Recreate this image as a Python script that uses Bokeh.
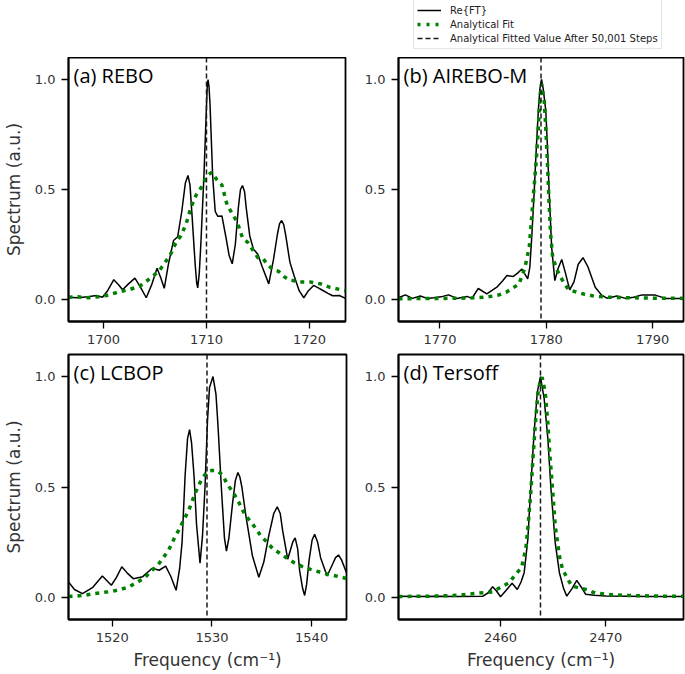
from bokeh.plotting import figure
from bokeh.models import (Range1d, FixedTicker, PrintfTickFormatter, Span, Label,
                          Legend, LegendItem)
from bokeh.layouts import column, row
from bokeh.embed import file_html
from bokeh.resources import INLINE

# ---------------- data ----------------
y_ticks = [0.0, 0.5, 1.0]

# (a) REBO
rebo_x = [1696.6, 1697.5, 1698.5, 1699.3, 1699.9, 1700.4, 1701.0, 1701.5, 1701.85, 1702.4,
          1703.05, 1703.6, 1704.15, 1704.7, 1705.2, 1705.55, 1705.9, 1706.3, 1706.8, 1707.2,
          1707.6, 1707.95, 1708.2, 1708.4, 1708.6, 1708.9, 1709.05, 1709.15, 1709.3, 1709.45,
          1709.75, 1710.0, 1710.07, 1710.15, 1710.25, 1710.35, 1710.6, 1710.85, 1711.1, 1711.5,
          1711.9, 1712.2, 1712.5, 1712.8, 1713.1, 1713.3, 1713.5, 1713.7, 1713.85, 1714.2,
          1714.55, 1715.0, 1715.4, 1716.05, 1716.5, 1716.9, 1717.1, 1717.3, 1717.5, 1717.7,
          1718.1, 1718.5, 1719.0, 1719.45, 1719.9, 1720.4, 1720.9, 1721.3, 1721.8, 1722.25,
          1722.9, 1723.5]
rebo_y = [0.010, 0.008, 0.012, 0.018, 0.010, 0.040, 0.090, 0.065, 0.044, 0.070,
          0.097, 0.055, 0.008, 0.070, 0.142, 0.100, 0.051, 0.160, 0.268, 0.285,
          0.400, 0.530, 0.564, 0.520, 0.380, 0.160, 0.075, 0.053, 0.120, 0.250,
          0.560, 0.880, 0.965, 1.000, 0.965, 0.880, 0.560, 0.400, 0.378, 0.380,
          0.280, 0.200, 0.162, 0.250, 0.420, 0.500, 0.518, 0.490, 0.420, 0.290,
          0.230, 0.205, 0.150, 0.071, 0.180, 0.300, 0.345, 0.359, 0.340, 0.290,
          0.170, 0.109, 0.040, 0.008, 0.040, 0.064, 0.052, 0.041, 0.028, 0.017,
          0.018, 0.005]
rebo_fit_x = [1696.6, 1697.5, 1698.5, 1699.5, 1700.5, 1701.5, 1702.5, 1703.5, 1704.5, 1705.4,
              1706.0, 1706.5, 1707.0, 1707.5, 1708.0, 1708.5, 1709.0, 1709.5, 1710.0, 1710.5,
              1711.0, 1711.5, 1712.0, 1712.5, 1713.0, 1713.5, 1714.0, 1714.5, 1715.0, 1715.5,
              1716.0, 1716.5, 1717.0, 1717.5, 1718.0, 1719.0, 1720.0, 1721.0, 1722.0, 1723.5]
rebo_fit_y = [0.010, 0.012, 0.008, 0.012, 0.020, 0.035, 0.045, 0.060, 0.095, 0.130,
              0.170, 0.205, 0.255, 0.290, 0.340, 0.420, 0.475, 0.510, 0.560, 0.578,
              0.545, 0.520, 0.430, 0.390, 0.350, 0.280, 0.260, 0.225, 0.190, 0.185,
              0.155, 0.135, 0.128, 0.105, 0.090, 0.080, 0.080, 0.072, 0.055, 0.040]
rebo_range = [1696.6, 1723.5]
rebo_ticks = [1700, 1710, 1720]
rebo_fitted = 1710.0

# (b) AIREBO-M
airebo_x = [1766.1, 1766.75, 1767.4, 1768.15, 1768.8, 1769.4, 1770.1, 1770.8, 1771.6, 1772.55,
            1773.0, 1773.6, 1774.4, 1775.35, 1775.9, 1776.3, 1776.9, 1777.3, 1777.7, 1778.25,
            1778.45, 1778.65, 1778.85, 1779.05, 1779.25, 1779.4, 1779.55, 1779.7, 1779.95, 1780.1,
            1780.25, 1780.5, 1780.8, 1781.1, 1781.45, 1781.8, 1782.2, 1782.6, 1783.0, 1783.45,
            1783.9, 1784.6, 1785.2, 1785.7, 1786.65, 1787.45, 1788.2, 1789.0, 1790.25, 1791.2,
            1792.9]
airebo_y = [0.008, 0.021, 0.005, 0.016, 0.005, 0.008, 0.012, 0.021, 0.005, 0.014,
            0.005, 0.050, 0.026, 0.056, 0.085, 0.109, 0.105, 0.120, 0.139, 0.094,
            0.147, 0.300, 0.480, 0.680, 0.860, 0.960, 1.000, 0.960, 0.860, 0.700,
            0.510, 0.238, 0.086, 0.140, 0.182, 0.120, 0.044, 0.080, 0.160, 0.190,
            0.150, 0.056, 0.020, 0.006, 0.016, 0.005, 0.010, 0.021, 0.020, 0.005,
            0.005]
airebo_fit_x = [1766.1, 1767.5, 1769.0, 1770.5, 1772.0, 1773.5, 1774.5, 1775.5, 1776.3, 1776.8,
                1777.4, 1777.7, 1778.0, 1778.4, 1778.6, 1778.8, 1779.05, 1779.25, 1779.4, 1779.55,
                1779.8, 1779.95, 1780.1, 1780.25, 1780.4, 1780.6, 1781.05, 1781.65, 1782.1, 1782.75,
                1783.5, 1784.5, 1786.0, 1788.0, 1790.0, 1792.9]
airebo_fit_y = [0.003, 0.004, 0.004, 0.005, 0.006, 0.008, 0.012, 0.020, 0.035, 0.051,
                0.068, 0.105, 0.147, 0.240, 0.360, 0.480, 0.630, 0.780, 0.920, 0.980,
                0.905, 0.780, 0.630, 0.450, 0.300, 0.190, 0.130, 0.075, 0.045, 0.035,
                0.025, 0.015, 0.010, 0.008, 0.006, 0.005]
airebo_range = [1766.1, 1792.9]
airebo_ticks = [1770, 1780, 1790]
airebo_fitted = 1779.5

# (c) LCBOP
lcbop_x = [1515.6, 1516.2, 1517.0, 1518.0, 1519.0, 1519.9, 1520.4, 1520.95, 1521.5, 1522.1,
           1523.05, 1524.0, 1524.7, 1525.35, 1525.85, 1526.4, 1526.75, 1527.0, 1527.3, 1527.55,
           1527.75, 1527.95, 1528.2, 1528.45, 1528.8, 1529.05, 1529.3, 1529.55, 1529.75, 1530.1,
           1530.4, 1530.6, 1530.95, 1531.25, 1531.45, 1531.7, 1532.05, 1532.35, 1532.6, 1532.8,
           1533.0, 1533.4, 1534.05, 1534.7, 1535.2, 1535.7, 1536.2, 1536.55, 1536.85, 1537.1,
           1537.6, 1538.1, 1538.35, 1538.6, 1538.8, 1539.1, 1539.3, 1539.5, 1539.75, 1540.05,
           1540.3, 1540.6, 1540.9, 1541.55, 1542.1, 1542.4, 1542.7, 1543.0, 1543.5]
lcbop_y = [0.070, 0.036, 0.017, 0.044, 0.097, 0.055, 0.090, 0.139, 0.110, 0.085,
           0.094, 0.132, 0.123, 0.142, 0.097, 0.032, 0.130, 0.250, 0.550, 0.720,
           0.760, 0.700, 0.550, 0.330, 0.155, 0.280, 0.500, 0.800, 0.950, 1.000,
           0.920, 0.780, 0.490, 0.270, 0.210, 0.270, 0.420, 0.530, 0.566, 0.545,
           0.500, 0.370, 0.190, 0.091, 0.160, 0.280, 0.380, 0.410, 0.380, 0.300,
           0.173, 0.250, 0.270, 0.220, 0.120, 0.040, 0.009, 0.060, 0.170, 0.260,
           0.286, 0.250, 0.180, 0.097, 0.150, 0.180, 0.192, 0.170, 0.112]
lcbop_fit_x = [1515.6, 1516.35, 1517.3, 1518.1, 1519.0, 1519.95, 1520.8, 1521.6, 1522.4, 1523.25,
               1523.9, 1524.5, 1525.05, 1525.6, 1526.2, 1526.8, 1527.2, 1527.65, 1528.15, 1528.6,
               1529.1, 1529.5, 1530.0, 1530.5, 1531.05, 1531.5, 1532.0, 1532.5, 1532.9, 1533.3,
               1533.85, 1534.4, 1534.9, 1535.5, 1536.1, 1536.8, 1537.6, 1538.25, 1539.1, 1539.9,
               1540.8, 1541.6, 1542.45, 1543.5]
lcbop_fit_y = [0.004, 0.006, 0.010, 0.017, 0.022, 0.027, 0.036, 0.047, 0.066, 0.089,
               0.120, 0.142, 0.177, 0.210, 0.266, 0.316, 0.354, 0.392, 0.453, 0.503,
               0.544, 0.568, 0.575, 0.574, 0.555, 0.516, 0.483, 0.448, 0.412, 0.375,
               0.345, 0.312, 0.279, 0.251, 0.221, 0.200, 0.175, 0.157, 0.139, 0.127,
               0.115, 0.105, 0.097, 0.086]
lcbop_range = [1515.6, 1543.5]
lcbop_ticks = [1520, 1530, 1540]
lcbop_fitted = 1529.5

# (d) Tersoff
tersoff_x = [2450.3, 2452.0, 2454.0, 2456.0, 2458.3, 2458.8, 2459.25, 2459.6, 2460.0, 2460.5,
             2461.1, 2461.6, 2461.95, 2462.25, 2462.6, 2462.9, 2463.2, 2463.5, 2463.8, 2464.15,
             2464.5, 2464.8, 2465.2, 2465.6, 2466.0, 2466.3, 2466.8, 2467.25, 2467.7, 2468.1,
             2468.9, 2470.0, 2472.0, 2474.0, 2477.4]
tersoff_y = [0.005, 0.004, 0.005, 0.004, 0.005, 0.020, 0.048, 0.030, 0.003, 0.030,
             0.064, 0.036, 0.070, 0.112, 0.264, 0.520, 0.750, 0.930, 1.000, 0.900,
             0.720, 0.490, 0.248, 0.112, 0.040, 0.006, 0.040, 0.077, 0.045, 0.014,
             0.010, 0.006, 0.005, 0.004, 0.004]
tersoff_fit_x = [2450.3, 2452.0, 2454.0, 2456.0, 2457.65, 2459.25, 2460.1, 2460.8, 2461.45, 2462.0,
                 2462.4, 2462.65, 2462.9, 2463.1, 2463.35, 2463.6, 2463.95, 2464.25, 2464.5, 2464.7,
                 2464.95, 2465.2, 2465.6, 2465.9, 2466.4, 2466.8, 2468.1, 2469.0, 2470.5, 2472.5,
                 2475.0, 2477.4]
tersoff_fit_y = [0.004, 0.005, 0.006, 0.010, 0.018, 0.025, 0.048, 0.066, 0.105, 0.135,
                 0.218, 0.340, 0.490, 0.640, 0.810, 0.945, 0.998, 0.930, 0.790, 0.640,
                 0.490, 0.324, 0.188, 0.127, 0.082, 0.051, 0.036, 0.020, 0.012, 0.008,
                 0.006, 0.005]
tersoff_range = [2450.3, 2477.4]
tersoff_ticks = [2460, 2470]
tersoff_fitted = 2463.8

panel_labels = ["(a) REBO", "(b) AIREBO-M", "(c) LCBOP", "(d) Tersoff"]
legend_labels = ["Re{FT}", "Analytical Fit", "Analytical Fitted Value After 50,001 Steps"]
y_label = "Spectrum (a.u.)"
x_label = "Frequency (cm\u207b\u00b9)"

FT_COLOR = "black"
FIT_COLOR = "green"
VLINE_COLOR = "#1a1a1a"
TICK_FONT = "DejaVu Sans"
FIT_DASH = "4 5"
VLINE_DASH = "5 3"


def make_panel(x, y, fx, fy, xr, xticks, fitted, label, width, height,
               bl, br, bt, bb, ylab=None, xlab=None):
    p = figure(width=width, height=height, x_range=Range1d(xr[0], xr[1]),
               y_range=Range1d(-0.1, 1.1), output_backend="svg",
               toolbar_location=None, min_border_left=bl, min_border_right=br,
               min_border_top=bt, min_border_bottom=bb)
    p.grid.visible = False
    p.background_fill_color = "white"
    p.border_fill_color = "white"
    p.outline_line_color = "black"
    p.outline_line_width = 1.8
    p.outline_line_alpha = 1.0

    p.line(x, y, line_color=FT_COLOR, line_width=1.5)
    p.line(fx, fy, line_color=FIT_COLOR, line_width=3.5, line_dash=FIT_DASH)
    p.add_layout(Span(location=fitted, dimension="height", line_color=VLINE_COLOR,
                      line_dash=VLINE_DASH, line_width=1.5))

    p.xaxis.ticker = FixedTicker(ticks=xticks)
    p.yaxis.ticker = FixedTicker(ticks=y_ticks)
    p.yaxis.formatter = PrintfTickFormatter(format="%.1f")
    for ax in (p.xaxis[0], p.yaxis[0]):
        ax.axis_line_color = "black"
        ax.axis_line_width = 1.8
        ax.major_tick_out = 7
        ax.major_tick_in = 0
        ax.minor_tick_out = 0
        ax.minor_tick_in = 0
        ax.major_tick_line_width = 1.3
        ax.major_tick_line_color = "black"
        ax.major_label_text_font = TICK_FONT
        ax.major_label_text_font_size = "13px"
        ax.major_label_text_color = "#333333"
        ax.major_label_standoff = 6
        ax.axis_label_text_font = TICK_FONT
        ax.axis_label_text_font_size = "17px"
        ax.axis_label_text_font_style = "normal"
        ax.axis_label_text_color = "#333333"
        ax.axis_label_standoff = 8
    if ylab:
        p.yaxis.axis_label = ylab
    if xlab:
        p.xaxis.axis_label = xlab
        p.xaxis.axis_label_standoff = 5

    p.add_layout(Label(x=xr[0], y=1.1, text=label, x_offset=5, y_offset=-4,
                       text_baseline="top", text_font="Open Sans",
                       text_font_size="20px", text_color="black"))
    return p


pa = make_panel(rebo_x, rebo_y, rebo_fit_x, rebo_fit_y, rebo_range, rebo_ticks,
                rebo_fitted, panel_labels[0], 350, 294, 60, 5, 0, 30, ylab=y_label)
pb = make_panel(airebo_x, airebo_y, airebo_fit_x, airebo_fit_y, airebo_range, airebo_ticks,
                airebo_fitted, panel_labels[1], 335, 294, 48, 2, 0, 30)
pc = make_panel(lcbop_x, lcbop_y, lcbop_fit_x, lcbop_fit_y, lcbop_range, lcbop_ticks,
                lcbop_fitted, panel_labels[2], 350, 323, 60, 4, 3, 55,
                ylab=y_label, xlab=x_label)
pd_ = make_panel(tersoff_x, tersoff_y, tersoff_fit_x, tersoff_fit_y, tersoff_range,
                 tersoff_ticks, tersoff_fitted, panel_labels[3], 335, 323, 48, 2, 3, 55,
                 xlab=x_label)

# legend strip (legend sample glyphs use points outside the strip's visible range)
lf = figure(width=685, height=57, x_range=Range1d(0, 1), y_range=Range1d(0, 1),
            output_backend="svg", toolbar_location=None, min_border=0,
            x_axis_location=None, y_axis_location=None)
lf.grid.visible = False
lf.outline_line_color = None
hidden = [5, 6]
r1 = lf.line(hidden, hidden, line_color=FT_COLOR, line_width=1.5)
r2 = lf.line(hidden, hidden, line_color=FIT_COLOR, line_width=3.5, line_dash="3 6")
r3 = lf.line(hidden, hidden, line_color=VLINE_COLOR, line_width=1.5, line_dash=VLINE_DASH)
leg = Legend(items=[LegendItem(label=legend_labels[0], renderers=[r1]),
                    LegendItem(label=legend_labels[1], renderers=[r2]),
                    LegendItem(label=legend_labels[2], renderers=[r3])],
             location=(413, 8), orientation="vertical",
             label_text_font=TICK_FONT, label_text_font_size="10px",
             label_text_color="#222222", label_height=14, glyph_height=14,
             glyph_width=24, label_standoff=9, spacing=0, padding=3, margin=0,
             border_line_color="#cccccc", border_line_width=1,
             background_fill_color="white", background_fill_alpha=1.0)
lf.add_layout(leg)

layout = column(lf, row(pa, pb), row(pc, pd_))
open("out.html", "w").write(file_html(layout, INLINE))
